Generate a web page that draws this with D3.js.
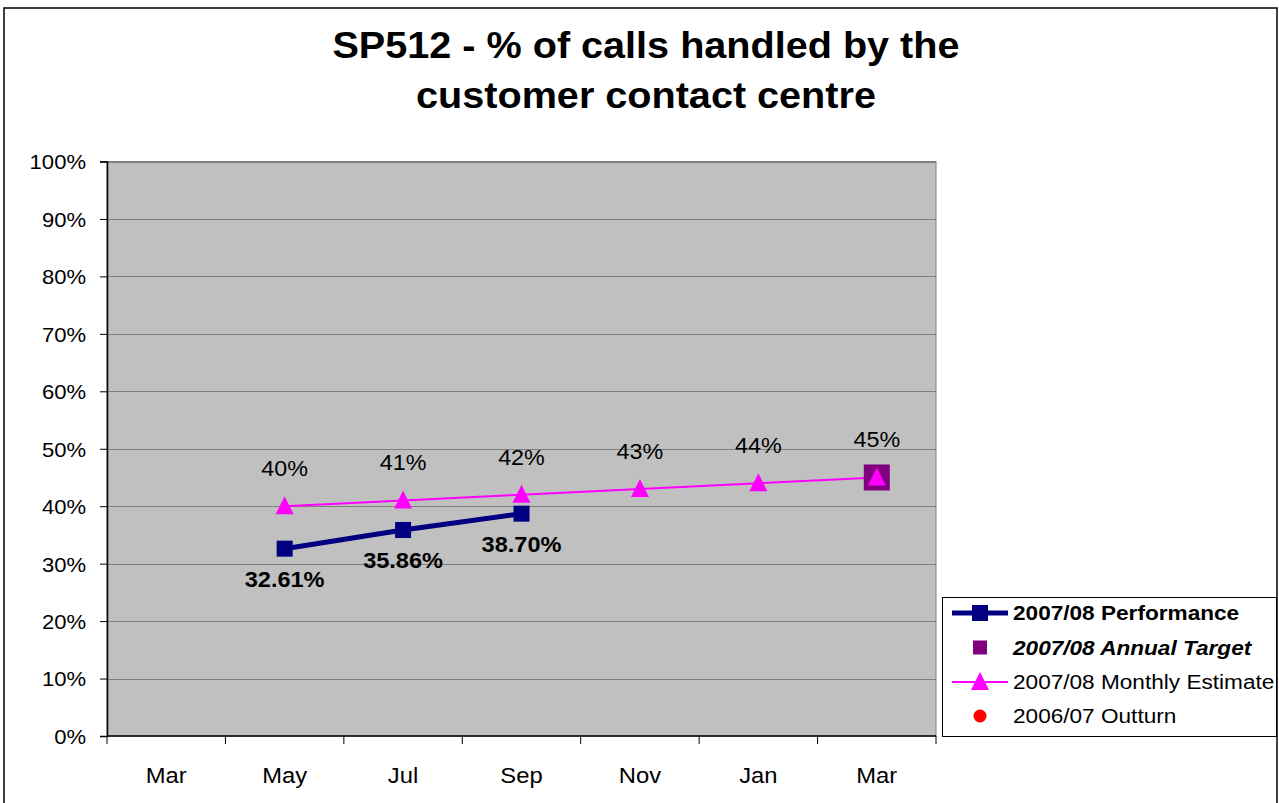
<!DOCTYPE html>
<html>
<head>
<meta charset="utf-8">
<script src="https://cdn.jsdelivr.net/npm/d3@7"></script>
<style>
  html, body { margin: 0; padding: 0; background: #ffffff; }
  svg { display: block; font-family: "Liberation Sans", Arial, sans-serif; }
</style>
</head>
<body>
<svg id="chart" width="1279" height="803"></svg>
<script>
// Months along the category axis (the year runs Mar to Mar)
const months = ["Mar", "May", "Jul", "Sep", "Nov", "Jan", "Mar"];
// 2007/08 Performance (%), null where not yet reported
const performance = [null, 32.61, 35.86, 38.70, null, null, null];
// 2007/08 Monthly Estimate (%)
const monthlyEstimate = [null, 40, 41, 42, 43, 44, 45];
// 2007/08 Annual Target (%)
const annualTarget = [null, null, null, null, null, null, 45];
// 2006/07 Outturn (%) - no values plotted
const outturn = [null, null, null, null, null, null, null];
// Value axis ticks (%)
const yTicks = [0, 10, 20, 30, 40, 50, 60, 70, 80, 90, 100];

const titleLines = ["SP512 - % of calls handled by the", "customer contact centre"];
const legendItems = [
  { label: "2007/08 Performance", kind: "perf" },
  { label: "2007/08 Annual Target", kind: "target" },
  { label: "2007/08 Monthly Estimate", kind: "estimate" },
  { label: "2006/07 Outturn", kind: "outturn" }
];

const svg = d3.select("#chart");

// Widen text slightly, like the original rendering
function widen(sel, f) {
  sel.each(function () {
    const w = this.getComputedTextLength();
    d3.select(this).attr("textLength", w * f).attr("lengthAdjust", "spacingAndGlyphs");
  });
}

// Chart frame
svg.append("rect")
  .attr("x", 4).attr("y", 8).attr("width", 1273).attr("height", 800)
  .attr("fill", "#ffffff").attr("stroke", "#000000").attr("stroke-width", 1.5);

// Title
const title = svg.append("g");
titleLines.forEach((t, i) => {
  title.append("text")
    .attr("x", 646).attr("y", 58 + i * 50)
    .attr("text-anchor", "middle")
    .attr("font-size", 37).attr("font-weight", "bold")
    .attr("fill", "#000")
    .text(t);
});
widen(title.selectAll("text"), 1.07);

// Plot area geometry
const plot = { left: 107, right: 936, top: 161.5, bottom: 736 };

const x = d3.scaleBand()
  .domain(d3.range(months.length))
  .range([plot.left, plot.right])
  .paddingInner(0).paddingOuter(0);

const y = d3.scaleLinear()
  .domain([0, 100])
  .range([plot.bottom, plot.top]);

const cx = i => x(i) + x.bandwidth() / 2;

// Plot background
svg.append("rect")
  .attr("x", plot.left).attr("y", plot.top)
  .attr("width", plot.right - plot.left).attr("height", plot.bottom - plot.top)
  .attr("fill", "#c0c0c0")
  .attr("stroke", "#808080").attr("stroke-width", 1);

// Gridlines
svg.append("g")
  .selectAll("line")
  .data(yTicks.filter(d => d > 0))
  .join("line")
  .attr("x1", plot.left).attr("x2", plot.right)
  .attr("y1", d => Math.round(y(d)) + 0.5).attr("y2", d => Math.round(y(d)) + 0.5)
  .attr("stroke", "#808080").attr("stroke-width", 1);

// Value axis
const yAxis = svg.append("g")
  .attr("transform", `translate(${plot.left},0)`)
  .call(d3.axisLeft(y).tickValues(yTicks).tickFormat(d => d + "%").tickSize(7).tickPadding(14));
yAxis.select(".domain").attr("stroke", "#000").attr("stroke-width", 1.5);
yAxis.selectAll(".tick line").attr("stroke", "#000");
yAxis.selectAll(".tick text")
  .attr("font-size", 21).attr("fill", "#000")
  .attr("font-family", "'Liberation Sans', Arial, sans-serif")
  .attr("dy", "0.35em");
widen(yAxis.selectAll(".tick text"), 1.05);

// Category axis: ticks sit on the band boundaries
const xAxisG = svg.append("g").attr("transform", `translate(0,${plot.bottom})`);
xAxisG.append("line")
  .attr("x1", plot.left).attr("x2", plot.right)
  .attr("y1", 0).attr("y2", 0)
  .attr("stroke", "#000").attr("stroke-width", 1.5);
xAxisG.selectAll("line.tick")
  .data(d3.range(months.length + 1))
  .join("line")
  .attr("class", "tick")
  .attr("x1", i => i < months.length ? x(i) : plot.right)
  .attr("x2", i => i < months.length ? x(i) : plot.right)
  .attr("y1", 0).attr("y2", 8)
  .attr("stroke", "#000").attr("stroke-width", 1);
xAxisG.selectAll("text")
  .data(months)
  .join("text")
  .attr("x", (d, i) => cx(i))
  .attr("y", 47)
  .attr("text-anchor", "middle")
  .attr("font-size", 22).attr("fill", "#000")
  .text(d => d);
widen(xAxisG.selectAll("text"), 1.08);

// Monthly estimate line
const estPts = monthlyEstimate.map((v, i) => ({ i, v })).filter(d => d.v != null);
svg.append("path")
  .datum(estPts)
  .attr("fill", "none")
  .attr("stroke", "#ff00ff").attr("stroke-width", 2)
  .attr("d", d3.line().x(d => cx(d.i)).y(d => y(d.v)));

// Performance line
const perfPts = performance.map((v, i) => ({ i, v })).filter(d => d.v != null);
svg.append("path")
  .datum(perfPts)
  .attr("fill", "none")
  .attr("stroke", "#000080").attr("stroke-width", 5)
  .attr("d", d3.line().x(d => cx(d.i)).y(d => y(d.v)));

// Annual target marker
const targetPts = annualTarget.map((v, i) => ({ i, v })).filter(d => d.v != null);
svg.append("g").selectAll("rect")
  .data(targetPts)
  .join("rect")
  .attr("x", d => cx(d.i) - 13).attr("y", d => y(d.v) - 13)
  .attr("width", 26).attr("height", 26)
  .attr("fill", "#800080");

// Performance markers
svg.append("g").selectAll("rect")
  .data(perfPts)
  .join("rect")
  .attr("x", d => cx(d.i) - 8).attr("y", d => y(d.v) - 8)
  .attr("width", 16).attr("height", 16)
  .attr("fill", "#000080");

// Estimate markers
const tri = (px, py, s) => `M${px},${py - s * 0.55}L${px + s / 2},${py + s * 0.45}L${px - s / 2},${py + s * 0.45}Z`;
svg.append("g").selectAll("path")
  .data(estPts)
  .join("path")
  .attr("d", d => tri(cx(d.i), y(d.v), 18))
  .attr("fill", "#ff00ff");

// Outturn markers (none plotted)
svg.append("g").selectAll("circle")
  .data(outturn.map((v, i) => ({ i, v })).filter(d => d.v != null))
  .join("circle")
  .attr("cx", d => cx(d.i)).attr("cy", d => y(d.v)).attr("r", 7)
  .attr("fill", "#ff0000");

// Estimate labels
const estLabels = svg.append("g").selectAll("text")
  .data(estPts)
  .join("text")
  .attr("x", d => cx(d.i)).attr("y", d => y(d.v) - 30)
  .attr("text-anchor", "middle")
  .attr("font-size", 22).attr("fill", "#000")
  .text(d => d3.format(".0f")(d.v) + "%");
widen(estLabels, 1.06);

// Performance labels
const perfLabels = svg.append("g").selectAll("text")
  .data(perfPts)
  .join("text")
  .attr("x", d => cx(d.i)).attr("y", d => y(d.v) + 38)
  .attr("text-anchor", "middle")
  .attr("font-size", 22).attr("font-weight", "bold").attr("fill", "#000")
  .text(d => d3.format(".2f")(d.v) + "%");
widen(perfLabels, 1.07);

// Legend
const lg = svg.append("g");
lg.append("rect")
  .attr("x", 942.5).attr("y", 597.5).attr("width", 334).attr("height", 139)
  .attr("fill", "#ffffff").attr("stroke", "#000").attr("stroke-width", 1);
const rowY = [613, 647.5, 682, 716];
legendItems.forEach((item, k) => {
  const ry = rowY[k];
  const g = lg.append("g");
  if (item.kind === "perf") {
    g.append("line").attr("x1", 952).attr("x2", 1008).attr("y1", ry).attr("y2", ry)
      .attr("stroke", "#000080").attr("stroke-width", 5);
    g.append("rect").attr("x", 972).attr("y", ry - 8).attr("width", 16).attr("height", 16).attr("fill", "#000080");
  } else if (item.kind === "target") {
    g.append("rect").attr("x", 973).attr("y", ry - 7).attr("width", 14).attr("height", 14).attr("fill", "#800080");
  } else if (item.kind === "estimate") {
    g.append("line").attr("x1", 952).attr("x2", 1008).attr("y1", ry).attr("y2", ry)
      .attr("stroke", "#ff00ff").attr("stroke-width", 2);
    g.append("path").attr("d", tri(980, ry, 18)).attr("fill", "#ff00ff");
  } else {
    g.append("circle").attr("cx", 980).attr("cy", ry).attr("r", 6.5).attr("fill", "#ff0000");
  }
  const t = g.append("text")
    .attr("x", 1013).attr("y", ry + 7)
    .attr("font-size", 20).attr("fill", "#000")
    .attr("font-weight", k < 2 ? "bold" : "normal")
    .attr("font-style", k === 1 ? "italic" : "normal")
    .text(item.label);
  widen(t, 1.13);
});
</script>
</body>
</html>
